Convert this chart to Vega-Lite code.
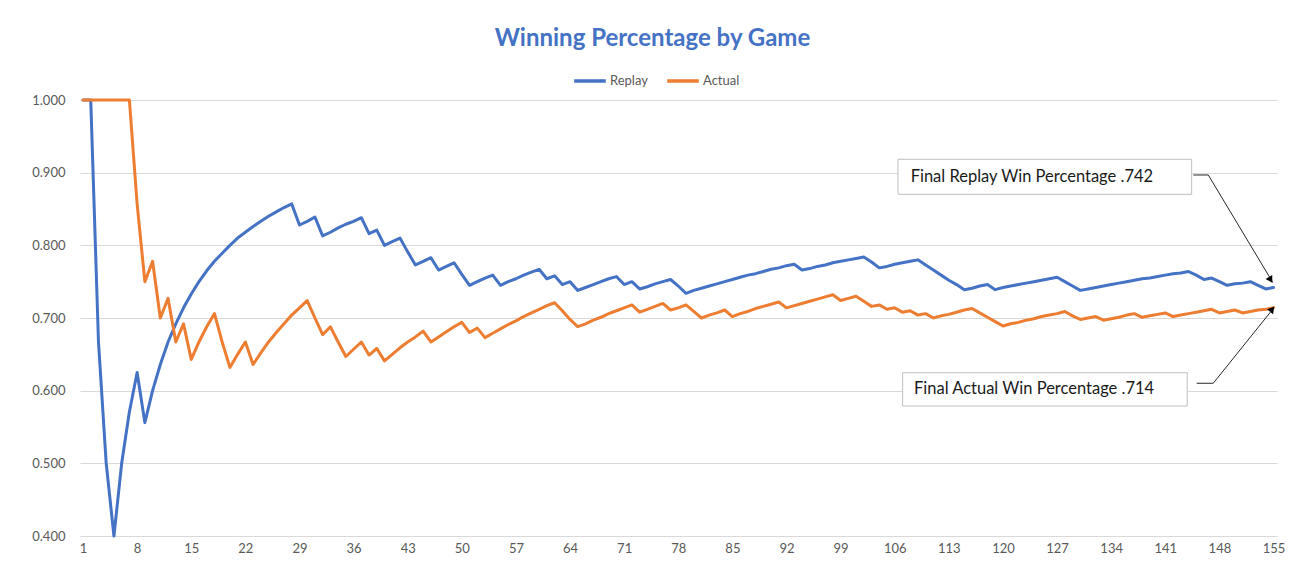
{
  "$schema": "https://vega.github.io/schema/vega-lite/v6.json",
  "width": 1197,
  "height": 436,
  "autosize": {"type": "none"},
  "padding": {"left": 80, "top": 100, "right": 17, "bottom": 37},
  "background": "white",
  "config": {"view": {"stroke": null}, "font": "Lato"},
  "title": {
    "text": "Winning Percentage by Game",
    "color": "#4472C4",
    "font": "Lato",
    "fontSize": 24,
    "fontWeight": "bold",
    "anchor": "middle",
    "baseline": "alphabetic",
    "dx": -26,
    "offset": -7
  },
  "datasets": {
    "games": [
      {"game": 1, "Replay": 1.000, "Actual": 1.000},
      {"game": 2, "Replay": 1.000, "Actual": 1.000},
      {"game": 3, "Replay": 0.667, "Actual": 1.000},
      {"game": 4, "Replay": 0.500, "Actual": 1.000},
      {"game": 5, "Replay": 0.400, "Actual": 1.000},
      {"game": 6, "Replay": 0.500, "Actual": 1.000},
      {"game": 7, "Replay": 0.571, "Actual": 1.000},
      {"game": 8, "Replay": 0.625, "Actual": 0.857},
      {"game": 9, "Replay": 0.556, "Actual": 0.750},
      {"game": 10, "Replay": 0.600, "Actual": 0.778},
      {"game": 11, "Replay": 0.636, "Actual": 0.700},
      {"game": 12, "Replay": 0.667, "Actual": 0.727},
      {"game": 13, "Replay": 0.692, "Actual": 0.667},
      {"game": 14, "Replay": 0.714, "Actual": 0.692},
      {"game": 15, "Replay": 0.733, "Actual": 0.643},
      {"game": 16, "Replay": 0.750, "Actual": 0.667},
      {"game": 17, "Replay": 0.765, "Actual": 0.688},
      {"game": 18, "Replay": 0.778, "Actual": 0.706},
      {"game": 19, "Replay": 0.789, "Actual": 0.667},
      {"game": 20, "Replay": 0.800, "Actual": 0.632},
      {"game": 21, "Replay": 0.810, "Actual": 0.650},
      {"game": 22, "Replay": 0.818, "Actual": 0.667},
      {"game": 23, "Replay": 0.826, "Actual": 0.636},
      {"game": 24, "Replay": 0.833, "Actual": 0.652},
      {"game": 25, "Replay": 0.840, "Actual": 0.667},
      {"game": 26, "Replay": 0.846, "Actual": 0.680},
      {"game": 27, "Replay": 0.852, "Actual": 0.692},
      {"game": 28, "Replay": 0.857, "Actual": 0.704},
      {"game": 29, "Replay": 0.828, "Actual": 0.714},
      {"game": 30, "Replay": 0.833, "Actual": 0.724},
      {"game": 31, "Replay": 0.839, "Actual": 0.700},
      {"game": 32, "Replay": 0.813, "Actual": 0.677},
      {"game": 33, "Replay": 0.818, "Actual": 0.688},
      {"game": 34, "Replay": 0.824, "Actual": 0.667},
      {"game": 35, "Replay": 0.829, "Actual": 0.647},
      {"game": 36, "Replay": 0.833, "Actual": 0.657},
      {"game": 37, "Replay": 0.838, "Actual": 0.667},
      {"game": 38, "Replay": 0.816, "Actual": 0.649},
      {"game": 39, "Replay": 0.821, "Actual": 0.658},
      {"game": 40, "Replay": 0.800, "Actual": 0.641},
      {"game": 41, "Replay": 0.805, "Actual": 0.650},
      {"game": 42, "Replay": 0.810, "Actual": 0.659},
      {"game": 43, "Replay": 0.791, "Actual": 0.667},
      {"game": 44, "Replay": 0.773, "Actual": 0.674},
      {"game": 45, "Replay": 0.778, "Actual": 0.682},
      {"game": 46, "Replay": 0.783, "Actual": 0.667},
      {"game": 47, "Replay": 0.766, "Actual": 0.674},
      {"game": 48, "Replay": 0.771, "Actual": 0.681},
      {"game": 49, "Replay": 0.776, "Actual": 0.688},
      {"game": 50, "Replay": 0.760, "Actual": 0.694},
      {"game": 51, "Replay": 0.745, "Actual": 0.680},
      {"game": 52, "Replay": 0.750, "Actual": 0.686},
      {"game": 53, "Replay": 0.755, "Actual": 0.673},
      {"game": 54, "Replay": 0.759, "Actual": 0.679},
      {"game": 55, "Replay": 0.745, "Actual": 0.685},
      {"game": 56, "Replay": 0.750, "Actual": 0.691},
      {"game": 57, "Replay": 0.754, "Actual": 0.696},
      {"game": 58, "Replay": 0.759, "Actual": 0.702},
      {"game": 59, "Replay": 0.763, "Actual": 0.707},
      {"game": 60, "Replay": 0.767, "Actual": 0.712},
      {"game": 61, "Replay": 0.754, "Actual": 0.717},
      {"game": 62, "Replay": 0.758, "Actual": 0.721},
      {"game": 63, "Replay": 0.746, "Actual": 0.710},
      {"game": 64, "Replay": 0.750, "Actual": 0.698},
      {"game": 65, "Replay": 0.738, "Actual": 0.688},
      {"game": 66, "Replay": 0.742, "Actual": 0.692},
      {"game": 67, "Replay": 0.746, "Actual": 0.697},
      {"game": 68, "Replay": 0.750, "Actual": 0.701},
      {"game": 69, "Replay": 0.754, "Actual": 0.706},
      {"game": 70, "Replay": 0.757, "Actual": 0.710},
      {"game": 71, "Replay": 0.746, "Actual": 0.714},
      {"game": 72, "Replay": 0.750, "Actual": 0.718},
      {"game": 73, "Replay": 0.740, "Actual": 0.708},
      {"game": 74, "Replay": 0.743, "Actual": 0.712},
      {"game": 75, "Replay": 0.747, "Actual": 0.716},
      {"game": 76, "Replay": 0.750, "Actual": 0.720},
      {"game": 77, "Replay": 0.753, "Actual": 0.711},
      {"game": 78, "Replay": 0.744, "Actual": 0.714},
      {"game": 79, "Replay": 0.734, "Actual": 0.718},
      {"game": 80, "Replay": 0.738, "Actual": 0.709},
      {"game": 81, "Replay": 0.741, "Actual": 0.700},
      {"game": 82, "Replay": 0.744, "Actual": 0.704},
      {"game": 83, "Replay": 0.747, "Actual": 0.707},
      {"game": 84, "Replay": 0.750, "Actual": 0.711},
      {"game": 85, "Replay": 0.753, "Actual": 0.702},
      {"game": 86, "Replay": 0.756, "Actual": 0.706},
      {"game": 87, "Replay": 0.759, "Actual": 0.709},
      {"game": 88, "Replay": 0.761, "Actual": 0.713},
      {"game": 89, "Replay": 0.764, "Actual": 0.716},
      {"game": 90, "Replay": 0.767, "Actual": 0.719},
      {"game": 91, "Replay": 0.769, "Actual": 0.722},
      {"game": 92, "Replay": 0.772, "Actual": 0.714},
      {"game": 93, "Replay": 0.774, "Actual": 0.717},
      {"game": 94, "Replay": 0.766, "Actual": 0.720},
      {"game": 95, "Replay": 0.768, "Actual": 0.723},
      {"game": 96, "Replay": 0.771, "Actual": 0.726},
      {"game": 97, "Replay": 0.773, "Actual": 0.729},
      {"game": 98, "Replay": 0.776, "Actual": 0.732},
      {"game": 99, "Replay": 0.778, "Actual": 0.724},
      {"game": 100, "Replay": 0.780, "Actual": 0.727},
      {"game": 101, "Replay": 0.782, "Actual": 0.730},
      {"game": 102, "Replay": 0.784, "Actual": 0.723},
      {"game": 103, "Replay": 0.777, "Actual": 0.716},
      {"game": 104, "Replay": 0.769, "Actual": 0.718},
      {"game": 105, "Replay": 0.771, "Actual": 0.712},
      {"game": 106, "Replay": 0.774, "Actual": 0.714},
      {"game": 107, "Replay": 0.776, "Actual": 0.708},
      {"game": 108, "Replay": 0.778, "Actual": 0.710},
      {"game": 109, "Replay": 0.780, "Actual": 0.704},
      {"game": 110, "Replay": 0.773, "Actual": 0.706},
      {"game": 111, "Replay": 0.766, "Actual": 0.700},
      {"game": 112, "Replay": 0.759, "Actual": 0.703},
      {"game": 113, "Replay": 0.752, "Actual": 0.705},
      {"game": 114, "Replay": 0.746, "Actual": 0.708},
      {"game": 115, "Replay": 0.739, "Actual": 0.711},
      {"game": 116, "Replay": 0.741, "Actual": 0.713},
      {"game": 117, "Replay": 0.744, "Actual": 0.707},
      {"game": 118, "Replay": 0.746, "Actual": 0.701},
      {"game": 119, "Replay": 0.739, "Actual": 0.695},
      {"game": 120, "Replay": 0.742, "Actual": 0.689},
      {"game": 121, "Replay": 0.744, "Actual": 0.692},
      {"game": 122, "Replay": 0.746, "Actual": 0.694},
      {"game": 123, "Replay": 0.748, "Actual": 0.697},
      {"game": 124, "Replay": 0.750, "Actual": 0.699},
      {"game": 125, "Replay": 0.752, "Actual": 0.702},
      {"game": 126, "Replay": 0.754, "Actual": 0.704},
      {"game": 127, "Replay": 0.756, "Actual": 0.706},
      {"game": 128, "Replay": 0.750, "Actual": 0.709},
      {"game": 129, "Replay": 0.744, "Actual": 0.703},
      {"game": 130, "Replay": 0.738, "Actual": 0.698},
      {"game": 131, "Replay": 0.740, "Actual": 0.700},
      {"game": 132, "Replay": 0.742, "Actual": 0.702},
      {"game": 133, "Replay": 0.744, "Actual": 0.697},
      {"game": 134, "Replay": 0.746, "Actual": 0.699},
      {"game": 135, "Replay": 0.748, "Actual": 0.701},
      {"game": 136, "Replay": 0.750, "Actual": 0.704},
      {"game": 137, "Replay": 0.752, "Actual": 0.706},
      {"game": 138, "Replay": 0.754, "Actual": 0.701},
      {"game": 139, "Replay": 0.755, "Actual": 0.703},
      {"game": 140, "Replay": 0.757, "Actual": 0.705},
      {"game": 141, "Replay": 0.759, "Actual": 0.707},
      {"game": 142, "Replay": 0.761, "Actual": 0.702},
      {"game": 143, "Replay": 0.762, "Actual": 0.704},
      {"game": 144, "Replay": 0.764, "Actual": 0.706},
      {"game": 145, "Replay": 0.759, "Actual": 0.708},
      {"game": 146, "Replay": 0.753, "Actual": 0.710},
      {"game": 147, "Replay": 0.755, "Actual": 0.712},
      {"game": 148, "Replay": 0.750, "Actual": 0.707},
      {"game": 149, "Replay": 0.745, "Actual": 0.709},
      {"game": 150, "Replay": 0.747, "Actual": 0.711},
      {"game": 151, "Replay": 0.748, "Actual": 0.707},
      {"game": 152, "Replay": 0.750, "Actual": 0.709},
      {"game": 153, "Replay": 0.745, "Actual": 0.711},
      {"game": 154, "Replay": 0.740, "Actual": 0.712},
      {"game": 155, "Replay": 0.742, "Actual": 0.714}
    ],
    "boxes": [
      {"game": 106.42, "game2": 144.41, "pct": 0.9184, "pct2": 0.8702},
      {"game": 107.02, "game2": 143.84, "pct": 0.6247, "pct2": 0.5789}
    ],
    "labels": [
      {"game": 108.06, "pct": 0.8943, "label": "Final Replay Win Percentage .742"},
      {"game": 108.49, "pct": 0.6018, "label": "Final Actual Win Percentage .714"}
    ],
    "connectors": [
      {"game": 144.62, "game2": 146.56, "pct": 0.8968, "pct2": 0.8968},
      {"game": 146.56, "game2": 154.9, "pct": 0.8968, "pct2": 0.7490},
      {"game": 145.06, "game2": 147.2, "pct": 0.6102, "pct2": 0.6102},
      {"game": 147.2, "game2": 154.9, "pct": 0.6102, "pct2": 0.7120}
    ]
  },
  "layer": [
    {
      "data": {"name": "games"},
      "transform": [{"fold": ["Replay", "Actual"], "as": ["series", "pct"]}],
      "mark": {"type": "line", "strokeWidth": 3, "strokeJoin": "round", "strokeCap": "round"},
      "encoding": {
        "x": {
          "field": "game",
          "type": "quantitative",
          "scale": {"domain": [0.61, 155.45], "nice": false, "zero": false},
          "axis": {
            "values": [1, 8, 15, 22, 29, 36, 43, 50, 57, 64, 71, 78, 85, 92, 99, 106, 113, 120, 127, 134, 141, 148, 155],
            "format": "d",
            "title": null,
            "grid": false,
            "ticks": false,
            "domainColor": "#D9D9D9",
            "domainWidth": 1,
            "labelColor": "#595959",
            "labelFont": "Lato",
            "labelFontSize": 13,
            "labelPadding": 6
          }
        },
        "y": {
          "field": "pct",
          "type": "quantitative",
          "scale": {"domain": [0.4, 1.0], "nice": false, "zero": false},
          "axis": {
            "values": [0.4, 0.5, 0.6, 0.7, 0.8, 0.9, 1.0],
            "format": ".3f",
            "title": null,
            "grid": true,
            "gridColor": "#D9D9D9",
            "gridWidth": 1,
            "domain": false,
            "ticks": false,
            "labelColor": "#595959",
            "labelFont": "Lato",
            "labelFontSize": 13,
            "labelPadding": 15
          }
        },
        "color": {
          "field": "series",
          "type": "nominal",
          "scale": {"domain": ["Replay", "Actual"], "range": ["#4472C4", "#ED7D31"]},
          "legend": {
            "title": null,
            "orient": "none",
            "direction": "horizontal",
            "legendX": 492,
            "legendY": -37,
            "symbolType": "stroke",
            "symbolSize": 1000,
            "symbolStrokeWidth": 3.5,
            "labelFontSize": 13,
            "labelFont": "Lato",
            "labelColor": "#595959",
            "labelOffset": 2,
            "columnPadding": 12
          }
        }
      }
    },
    {
      "data": {"name": "boxes"},
      "mark": {"type": "rect", "fill": "white", "stroke": "#BFBFBF", "strokeWidth": 1},
      "encoding": {
        "x": {"field": "game", "type": "quantitative"},
        "x2": {"field": "game2"},
        "y": {"field": "pct", "type": "quantitative"},
        "y2": {"field": "pct2"}
      }
    },
    {
      "data": {"name": "labels"},
      "mark": {"type": "text", "align": "left", "baseline": "middle", "font": "Lato", "fontSize": 16.5, "color": "#1A1A1A"},
      "encoding": {
        "x": {"field": "game", "type": "quantitative"},
        "y": {"field": "pct", "type": "quantitative"},
        "text": {"field": "label"}
      }
    },
    {
      "data": {"name": "connectors"},
      "mark": {"type": "rule", "color": "#262626", "strokeWidth": 1},
      "encoding": {
        "x": {"field": "game", "type": "quantitative"},
        "x2": {"field": "game2"},
        "y": {"field": "pct", "type": "quantitative"},
        "y2": {"field": "pct2"}
      }
    },
    {
      "data": {"values": [{"game": 154.55, "pct": 0.7537}]},
      "mark": {"type": "point", "shape": "triangle", "filled": true, "color": "#000000", "size": 60, "angle": 149, "opacity": 1},
      "encoding": {
        "x": {"field": "game", "type": "quantitative"},
        "y": {"field": "pct", "type": "quantitative"}
      }
    },
    {
      "data": {"values": [{"game": 154.73, "pct": 0.7110}]},
      "mark": {"type": "point", "shape": "triangle", "filled": true, "color": "#000000", "size": 60, "angle": 39, "opacity": 1},
      "encoding": {
        "x": {"field": "game", "type": "quantitative"},
        "y": {"field": "pct", "type": "quantitative"}
      }
    }
  ]
}
